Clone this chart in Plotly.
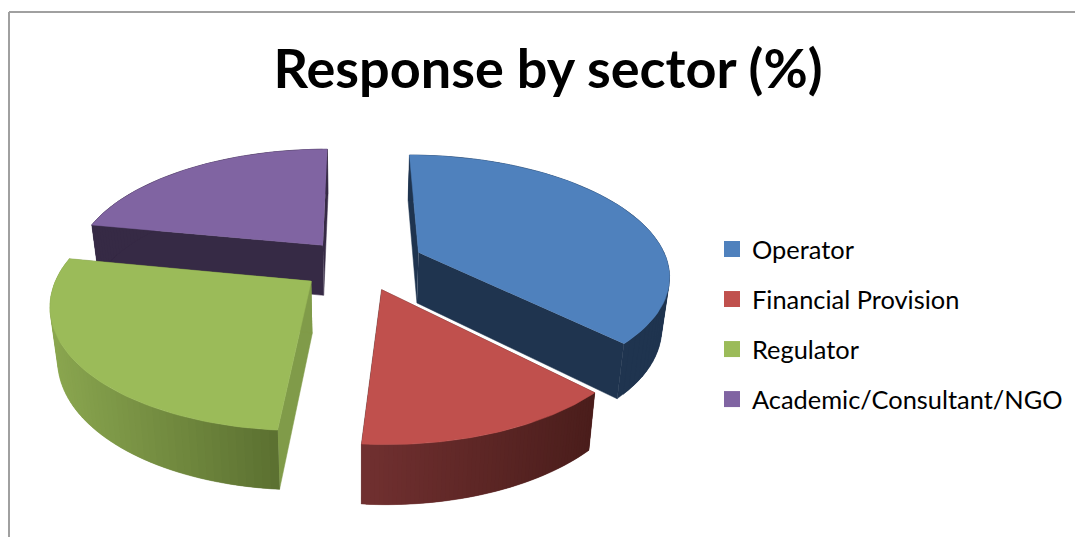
import numpy as np
import plotly.graph_objects as go

categories = ["Operator", "Financial Provision", "Regulator", "Academic/Consultant/NGO"]
values = [37.5, 13.75, 26.75, 22]

top_colors = ["#4F81BD", "#C0504D", "#9BBB59", "#8064A2"]
wall_colors = ["#1F344F", "#4E1F1D", "#809B49", "#362A45"]
rim_left = ["#1F344F", "#713030", "#8AA64F", "#362A45"]
rim_right = ["#1F344F", "#4A1D1B", "#5A6F30", "#362A45"]
explode = [0.28, 0.24, 0.22, 0.2]
nudge_x = [0, 5, 1, -1]
nudge_y = [1, -2, 1, -1]

W, H = 1075, 537
CX, CY = 355, 264
RX, RY, PERSP, DEPTH, LEAN = 250, 118, 0.17, 51, 0.025


def project(px, py, z=0.0):
    s = 1 / (1 + PERSP * py)
    x = CX + RX * px * s * (1 - LEAN * z)
    y = CY - RY * py * s + DEPTH * z * s ** 0.7
    return x, y


def mix(a, b, t):
    ca = [int(a[i:i + 2], 16) for i in (1, 3, 5)]
    cb = [int(b[i:i + 2], 16) for i in (1, 3, 5)]
    return "rgb(%d,%d,%d)" % tuple(round(u + (v - u) * t) for u, v in zip(ca, cb))


fig = go.Figure()


def poly(xs, ys, color, width=0.5):
    fig.add_trace(go.Scatter(x=list(xs), y=list(ys), mode="lines", fill="toself", fillcolor=color,
                             line=dict(color=color, width=width), hoverinfo="skip", showlegend=False))


def wedge(i, start, end):
    mid = (start + end) / 2
    ox, oy = explode[i] * np.sin(mid), explode[i] * np.cos(mid)
    nx, ny = nudge_x[i], nudge_y[i]

    def pj(a, b, z=0.0):
        x, y = project(a, b, z)
        return x + nx, y + ny

    th = np.linspace(start, end, 61)
    rx, ry = ox + np.sin(th), oy + np.cos(th)
    # radial walls
    for a in (start, end):
        ex, ey = ox + np.sin(a), oy + np.cos(a)
        t = np.linspace(0, 1, 12)
        lx, ly = ox + (ex - ox) * t, oy + (ey - oy) * t
        x0, y0 = pj(lx, ly, 0)
        x1, y1 = pj(lx, ly, 1)
        poly(np.r_[x0, x1[::-1]], np.r_[y0, y1[::-1]], wall_colors[i])
    # rim: overlapping strips, shaded left to right, painted so no seams remain
    x0, y0 = pj(rx, ry, 0)
    x1, y1 = pj(rx, ry, 1)
    xmin, xmax = x0.min(), x0.max()
    order = np.argsort(x0[:-1])[::-1] if x0[0] > x0[-1] else np.argsort(x0[:-1])
    for j in order:
        k = min(j + 1, len(th) - 1)
        m = max(j - 1, 0)
        t = (x0[j] - xmin) / max(xmax - xmin, 1)
        poly([x0[m], x0[j], x0[k], x1[k], x1[j], x1[m]], [y0[m], y0[j], y0[k], y1[k], y1[j], y1[m]],
             mix(rim_left[i], rim_right[i], t), 0.3)
    # top face
    px, py = pj(ox, oy)
    poly(np.r_[px, x0], np.r_[py, y0], top_colors[i])


fractions = np.array(values) / sum(values)
edges = np.r_[0, np.cumsum(fractions)] * 2 * np.pi
for i in (3, 2, 0, 1):
    wedge(i, edges[i], edges[i + 1])

for i, name in enumerate(categories):
    fig.add_trace(go.Scatter(x=[None], y=[None], mode="markers", name=name, legendgroup=name,
                             marker=dict(symbol="square", size=16, color=top_colors[i])))

fig.update_layout(
    width=W, height=H, margin=dict(l=0, r=0, t=0, b=0),
    paper_bgcolor="white", plot_bgcolor="white",
    xaxis=dict(range=[0, W], visible=False, fixedrange=True),
    yaxis=dict(range=[H, 0], visible=False, fixedrange=True),
    title=dict(text="<b>Response by sector (%)</b>", x=548 / W, y=1 - 69 / H, xanchor="center", yanchor="middle",
               font=dict(family="Lato", size=54, color="black")),
    legend=dict(x=712 / W, y=1 - 226 / H, xanchor="left", yanchor="top", tracegroupgap=14, itemwidth=30,
                bgcolor="rgba(0,0,0,0)", font=dict(family="Lato", size=25.4, color="black")),
    shapes=[
        dict(type="line", xref="x", yref="y", x0=9, x1=W, y0=12, y1=12, line=dict(color="#A0A0A0", width=2)),
        dict(type="line", xref="x", yref="y", x0=9, x1=9, y0=12, y1=H, line=dict(color="#A0A0A0", width=2)),
    ],
)
fig.write_html("out.html", config=dict(displayModeBar=False),
               post_script="document.body.style.margin='0';document.body.style.overflow='hidden';")
